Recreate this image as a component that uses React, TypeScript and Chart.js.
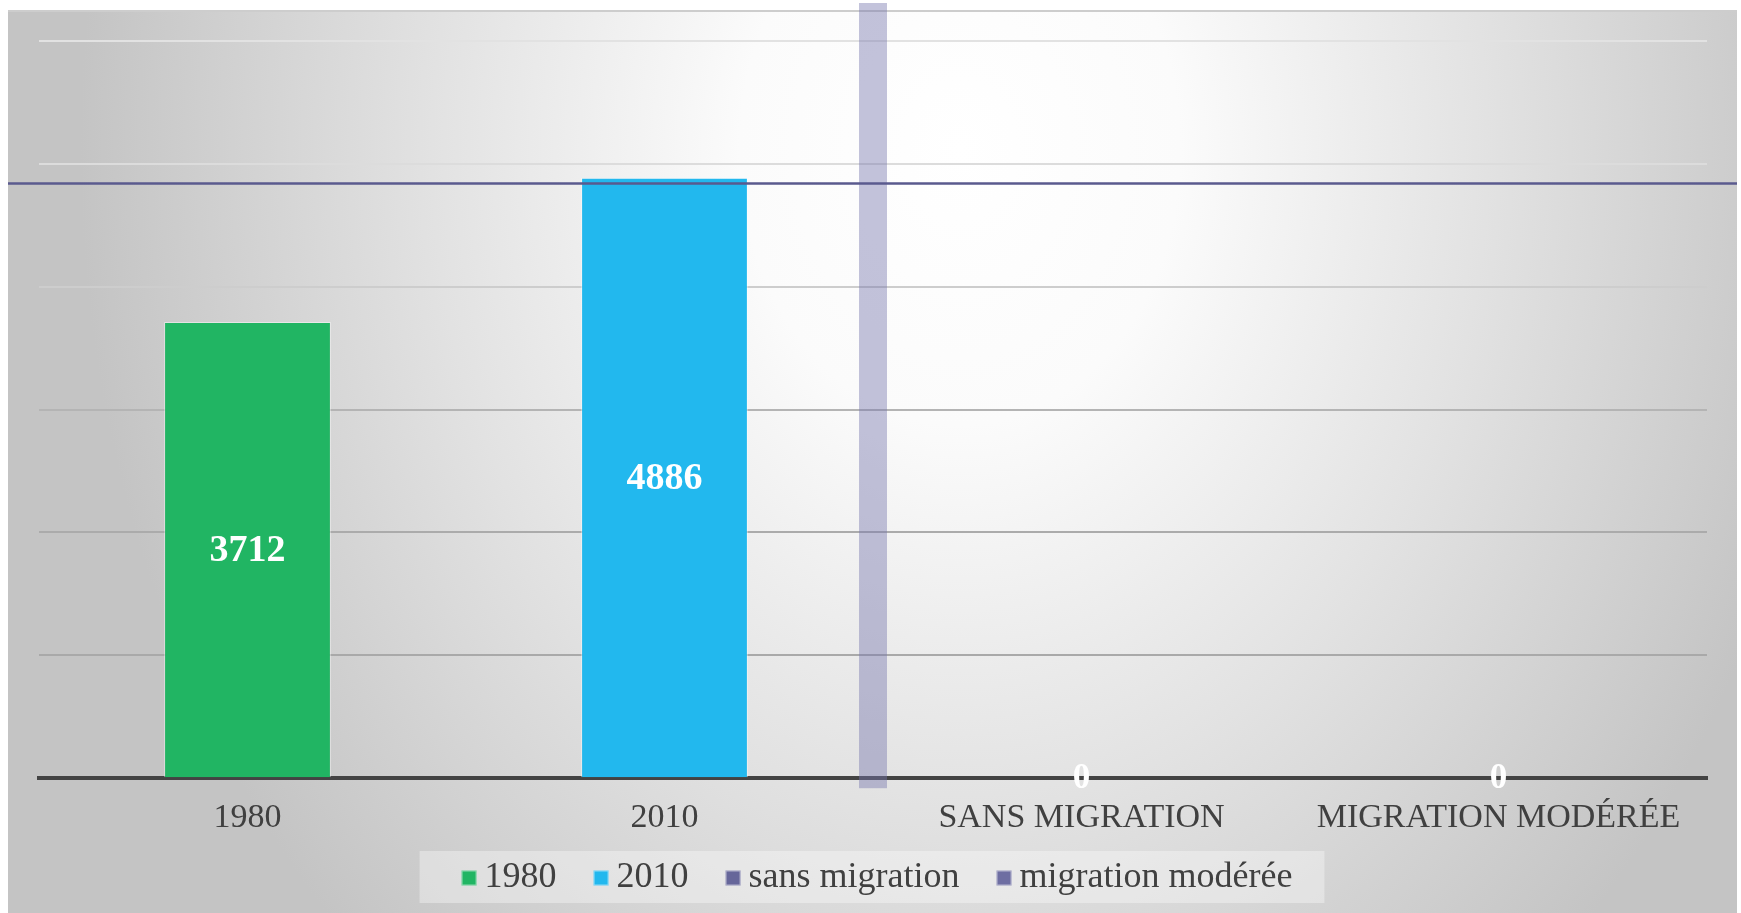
import React, { useEffect, useRef } from "react";
import { Chart, registerables } from "chart.js";

Chart.register(...registerables);

// ---- Data ----
const categories = ["1980", "2010", "SANS MIGRATION", "MIGRATION MODÉRÉE"];
const seriesLabels = ["1980", "2010", "sans migration", "migration modérée"];
const values1980 = [3712, null, null, null];
const values2010 = [null, 4886, null, null];
const valuesSansMigration = [null, null, 0, null];
const valuesMigrationModeree = [null, null, null, 0];
const yTickValues = [0, 1000, 2000, 3000, 4000, 5000, 6000];
const referenceLineValues = [4840];
const separatorPositions = [1.5];

const seriesColors = ["#21B563", "#22B8EE", "#66669A", "#6E6EA2"];
const FONT = '"Liberation Serif", "Times New Roman", serif';

const gridColors: Record<number, string> = {
  0: "rgba(0,0,0,0)",
  1000: "#a9a9a9",
  2000: "#ababab",
  3000: "#b4b4b4",
  4000: "#cdcdcd",
  5000: "#dcdcdc",
  6000: "#e2e2e2",
};

const backgroundPlugin = {
  id: "panelBackground",
  beforeDraw(chart: any) {
    const { ctx, width, height } = chart;
    ctx.save();
    ctx.fillStyle = "#ffffff";
    ctx.fillRect(0, 0, width, height);
    const cx = 960, cy = 150, rx = 880, ry = 1100;
    ctx.save();
    ctx.beginPath();
    ctx.rect(8, 10, 1729, height - 10);
    ctx.clip();
    ctx.translate(cx, cy);
    ctx.scale(1, ry / rx);
    const g = ctx.createRadialGradient(0, 0, 0, 0, 0, rx);
    g.addColorStop(0, "#ffffff");
    g.addColorStop(0.25, "#fbfbfb");
    g.addColorStop(0.6, "#e2e2e2");
    g.addColorStop(1, "#c4c4c4");
    ctx.fillStyle = g;
    ctx.fillRect(-cx, -cy * rx / ry - 10, 2000, 2000);
    ctx.restore();
    ctx.strokeStyle = "#cdcdcd";
    ctx.lineWidth = 2;
    ctx.beginPath();
    ctx.moveTo(8, 11);
    ctx.lineTo(1737, 11);
    ctx.stroke();
    ctx.restore();
  },
};

const overlayPlugin = {
  id: "overlays",
  afterDatasetsDraw(chart: any) {
    const { ctx, scales, chartArea } = chart;
    const x = scales.x;
    const y = scales.y;
    ctx.save();
    // separator band
    separatorPositions.forEach((p) => {
      const px = x.getPixelForValue(p);
      ctx.fillStyle = "rgba(118,118,174,0.44)";
      ctx.fillRect(px - 14, 3, 28, chartArea.bottom + 10 - 3);
    });
    // reference line
    referenceLineValues.forEach((v) => {
      const py = y.getPixelForValue(v);
      ctx.strokeStyle = "#5a5a8e";
      ctx.lineWidth = 2.5;
      ctx.beginPath();
      ctx.moveTo(8, py);
      ctx.lineTo(1737, py);
      ctx.stroke();
    });
    // data labels
    ctx.fillStyle = "#ffffff";
    ctx.textAlign = "center";
    ctx.textBaseline = "middle";
    chart.data.datasets.forEach((ds: any, di: number) => {
      const meta = chart.getDatasetMeta(di);
      meta.data.forEach((el: any, i: number) => {
        const v = ds.data[i];
        if (v === null || v === undefined) return;
        const big = v !== 0;
        ctx.font = `bold ${big ? 38 : 35}px ${FONT}`;
        const yy = big ? (el.y + el.base) / 2 + 2 : el.base + 1;
        ctx.fillText(String(v), el.x, yy);
      });
    });
    ctx.restore();
  },
  afterDraw(chart: any) {
    const { ctx } = chart;
    ctx.save();
    ctx.font = `36px ${FONT}`;
    ctx.textBaseline = "middle";
    ctx.textAlign = "left";
    const box = 15, gapBox = 8, gapItem = 37;
    const items = chart.data.datasets.map((ds: any) => ({
      text: ds.label,
      color: ds.backgroundColor,
      w: ctx.measureText(ds.label).width,
    }));
    let total = 0;
    items.forEach((it: any, i: number) => {
      total += box + gapBox + it.w + (i < items.length - 1 ? gapItem : 0);
    });
    const centerX = 877;
    const left = centerX - total / 2;
    const midY = 878;
    ctx.fillStyle = "rgba(255,255,255,0.35)";
    ctx.fillRect(left - 42, 851, total + 74, 52);
    let cx = left;
    items.forEach((it: any) => {
      ctx.fillStyle = it.color;
      ctx.fillRect(cx, midY - box / 2, box, box);
      ctx.strokeStyle = "rgba(255,255,255,0.5)";
      ctx.lineWidth = 1;
      ctx.strokeRect(cx + 0.5, midY - box / 2 + 0.5, box - 1, box - 1);
      cx += box + gapBox;
      ctx.fillStyle = "#404040";
      ctx.fillText(it.text, cx, midY);
      cx += it.w + gapItem;
    });
    ctx.restore();
  },
};

export default function App() {
  const canvasRef = useRef<HTMLCanvasElement | null>(null);

  useEffect(() => {
    if (!canvasRef.current) return;
    const datasetsValues = [values1980, values2010, valuesSansMigration, valuesMigrationModeree];
    const chart = new Chart(canvasRef.current, {
      type: "bar",
      data: {
        labels: categories,
        datasets: datasetsValues.map((vals, i) => ({
          label: seriesLabels[i],
          data: vals,
          backgroundColor: seriesColors[i],
          borderColor: "rgba(255,255,255,0.45)",
          borderWidth: (c: any) => (c.raw ? 1 : 0),
          barPercentage: 0.4,
          categoryPercentage: 1,
        })),
      },
      options: {
        responsive: false,
        animation: false,
        devicePixelRatio: 1,
        layout: { padding: { left: 39, right: 34, top: 41, bottom: 56 } },
        plugins: {
          legend: { display: false },
          tooltip: { enabled: false },
          title: { display: false },
        },
        scales: {
          x: {
            stacked: true,
            grid: { display: false, drawTicks: false },
            border: { display: true, color: "#434343", width: 4 },
            ticks: {
              color: "#404040",
              font: { family: FONT, size: 34 },
              padding: 19,
            },
          },
          y: {
            stacked: true,
            min: 0,
            max: 6000,
            afterBuildTicks: (axis: any) => {
              axis.ticks = yTickValues.map((v) => ({ value: v }));
            },
            grid: {
              drawTicks: false,
              lineWidth: 2,
              color: (c: any) => gridColors[c.tick?.value] ?? "#cccccc",
            },
            border: { display: false },
            ticks: { display: false },
          },
        },
      } as any,
      plugins: [backgroundPlugin, overlayPlugin],
    });
    return () => chart.destroy();
  }, []);

  return (
    <canvas
      ref={canvasRef}
      width={1741}
      height={913}
      style={{ position: "fixed", left: 0, top: 0, width: 1741, height: 913 }}
    />
  );
}
